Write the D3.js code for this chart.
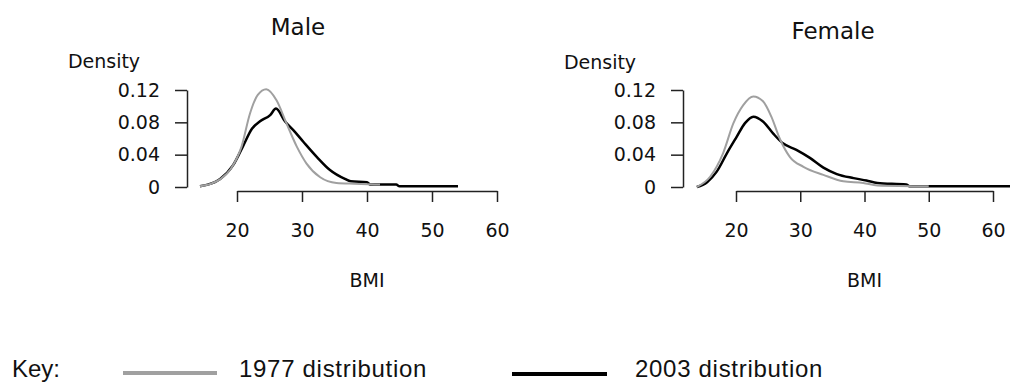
<!DOCTYPE html>
<html>
<head>
<meta charset="utf-8">
<script src="https://cdn.jsdelivr.net/npm/d3@7/dist/d3.min.js"></script>
<style>
  html, body { margin: 0; padding: 0; background: #fff; }
  svg { display: block; }
  .ax text { font-family: "DejaVu Sans", sans-serif; font-size: 19px; fill: #111; }
  .ax path, .ax line { stroke: #222; stroke-width: 1.5; }
</style>
</head>
<body>
<svg id="chart" width="1010" height="383"></svg>
<script>
// ---- Data ----
const panels = ["Male", "Female"];
const yTicks = [0, 0.04, 0.08, 0.12];
const yTickLabels = ["0", "0.04", "0.08", "0.12"];
const xTicks = [20, 30, 40, 50, 60];
const legendLabels = ["1977 distribution", "2003 distribution"];

// [BMI, density]
const male1977 = [[14.3,0.001],[16,0.004],[17.5,0.010],[19,0.022],[20.7,0.050],[22,0.091],[23.2,0.114],[24.5,0.121],[26.1,0.107],[27.6,0.079],[29.2,0.050],[30.7,0.029],[32.8,0.012],[35.3,0.005],[38,0.004],[42,0.003]];
const male2003 = [[14.3,0.001],[15.5,0.003],[17.4,0.010],[19.4,0.027],[20.9,0.050],[22.3,0.072],[23.5,0.081],[25.1,0.089],[26,0.097],[27.4,0.081],[28.7,0.070],[30.2,0.056],[32.3,0.037],[34.3,0.021],[36.6,0.010],[37.5,0.007],[40,0.006],[40.5,0.003],[44.5,0.003],[45,0.001],[54,0.001]];
const female1977 = [[13.9,0.000],[16,0.013],[18,0.042],[19.6,0.079],[21.1,0.101],[22.7,0.112],[24.2,0.106],[25.5,0.087],[26.8,0.060],[28.4,0.037],[30.5,0.025],[33.6,0.015],[36.7,0.007],[39.8,0.005],[42,0.002],[50,0.001]];
const female2003 = [[13.9,0.000],[15.5,0.006],[17,0.019],[18.6,0.042],[20.1,0.062],[21.4,0.079],[22.7,0.087],[24.2,0.081],[25.8,0.066],[27.3,0.054],[29.4,0.046],[31.5,0.036],[33.6,0.024],[35.7,0.016],[38.3,0.011],[40.3,0.008],[42,0.005],[46.5,0.003],[47,0.001],[64,0.001]];

const seriesByPanel = {
  Male: [male2003, male1977],
  Female: [female2003, female1977]
};
const seriesColors = ["#000000", "#a0a0a0"]; // 2003, 1977
const legendColors = ["#a0a0a0", "#000000"];

// ---- Layout ----
const layout = {
  Male:   { yAxisX: 187, x0: 237, x1: 497, titleX: 298, titleY: 35, densX: 104, densY: 68 },
  Female: { yAxisX: 683, x0: 736, x1: 993, titleX: 833, titleY: 39, densX: 600, densY: 69 }
};
const yTop = 90, yBottom = 187, xAxisY = 191;

const svg = d3.select("#chart");

panels.forEach(p => {
  const L = layout[p];
  const x = d3.scaleLinear().domain([20, 60]).range([L.x0, L.x1]);
  const y = d3.scaleLinear().domain([0, 0.12]).range([yBottom, yTop]);

  svg.append("text").attr("x", L.titleX).attr("y", L.titleY)
    .attr("text-anchor", "middle")
    .style("font-family", "DejaVu Sans, sans-serif").style("font-size", "23px").style("fill", "#111")
    .text(p);

  svg.append("text").attr("x", L.densX).attr("y", L.densY)
    .attr("text-anchor", "middle")
    .style("font-family", "DejaVu Sans, sans-serif").style("font-size", "19px").style("fill", "#111")
    .text("Density");

  svg.append("g").attr("class", "ax")
    .attr("transform", `translate(${L.yAxisX},0)`)
    .call(d3.axisLeft(y).tickValues(yTicks).tickFormat((d, i) => yTickLabels[i])
      .tickSize(12).tickSizeOuter(0).tickPadding(15));

  svg.append("g").attr("class", "ax")
    .attr("transform", `translate(0,${xAxisY})`)
    .call(d3.axisBottom(x).tickValues(xTicks).tickFormat(d3.format("d"))
      .tickSize(11).tickSizeOuter(0).tickPadding(22));

  svg.append("text").attr("x", (L.x0 + L.x1) / 2).attr("y", 287)
    .attr("text-anchor", "middle")
    .style("font-family", "DejaVu Sans, sans-serif").style("font-size", "19px").style("fill", "#111")
    .text("BMI");

  const line = d3.line().x(d => x(d[0])).y(d => y(d[1])).curve(d3.curveMonotoneX);
  seriesByPanel[p].forEach((s, i) => {
    svg.append("path").datum(s).attr("d", line)
      .attr("fill", "none").attr("stroke", seriesColors[i])
      .attr("stroke-width", i === 0 ? 2.5 : 2)
      .attr("stroke-linejoin", "round");
  });
});

// ---- Legend ----
const lg = svg.append("g").style("font-family", "Liberation Sans, Arial, sans-serif")
  .style("font-size", "24px").style("letter-spacing", "0.7px");
lg.append("text").attr("x", 12).attr("y", 377).style("fill", "#111").style("letter-spacing", "0px").text("Key:");
const legendPos = [{ lx0: 123, lx1: 217, ly: 373, tx: 239 }, { lx0: 512, lx1: 607, ly: 374, tx: 635 }];
legendLabels.forEach((lab, i) => {
  const P = legendPos[i];
  lg.append("line").attr("x1", P.lx0).attr("x2", P.lx1).attr("y1", P.ly).attr("y2", P.ly)
    .attr("stroke", legendColors[i]).attr("stroke-width", 4);
  lg.append("text").attr("x", P.tx).attr("y", 377).style("fill", "#111").text(lab);
});
</script>
</body>
</html>
